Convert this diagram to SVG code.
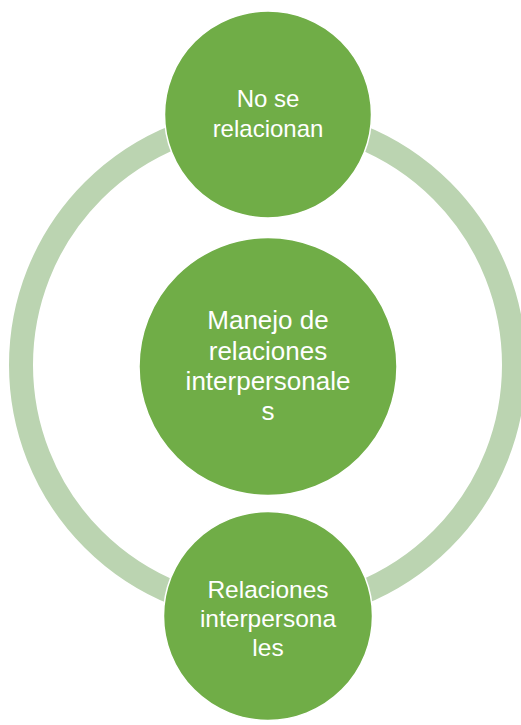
<svg xmlns="http://www.w3.org/2000/svg" width="521" height="725" viewBox="0 0 521 725">
<style>
.node{fill:#70ad47;stroke:#ffffff;stroke-width:1.5}
.lbl{font-family:"Liberation Sans",Arial,sans-serif;fill:#ffffff;text-anchor:middle}
</style>
<rect width="521" height="725" fill="#ffffff"/>
<g id="connectors">
<circle cx="267.5" cy="365" r="246.5" fill="none" stroke="#bbd4b1" stroke-width="24"/>
</g>
<g id="node-top">
<circle class="node" cx="268" cy="114.5" r="103.5"/>
<text class="lbl" font-size="24" x="268" y="107">No se</text>
<text class="lbl" font-size="24" x="268" y="137">relacionan</text>
</g>
<g id="node-center">
<circle class="node" cx="268" cy="366.5" r="129"/>
<text class="lbl" font-size="26" x="268" y="329">Manejo de</text>
<text class="lbl" font-size="26" x="268" y="360">relaciones</text>
<text class="lbl" font-size="26" x="268" y="390">interpersonale</text>
<text class="lbl" font-size="26" x="268" y="420">s</text>
</g>
<g id="node-bottom">
<circle class="node" cx="268" cy="616" r="104.5"/>
<text class="lbl" font-size="24.5" x="268" y="598">Relaciones</text>
<text class="lbl" font-size="24.5" x="268" y="627">interpersona</text>
<text class="lbl" font-size="24.5" x="268" y="656">les</text>
</g>
</svg>
